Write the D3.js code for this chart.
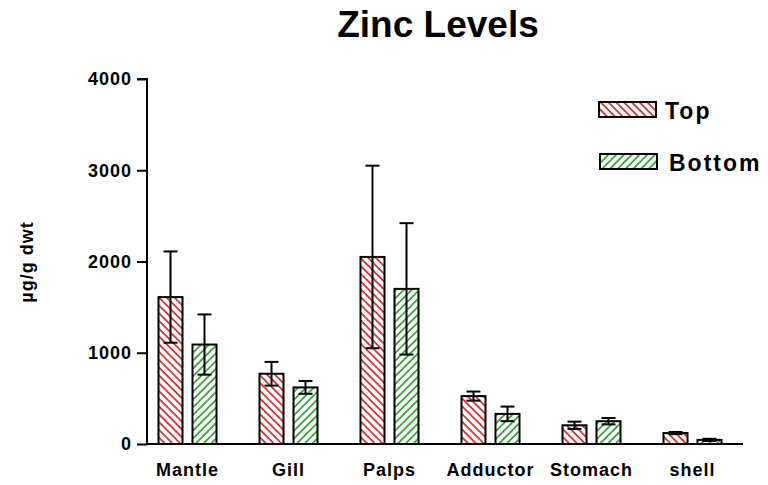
<!DOCTYPE html>
<html>
<head>
<meta charset="utf-8">
<script src="https://cdn.jsdelivr.net/npm/d3@7"></script>
<style>
  body { margin: 0; background: #fff; }
  text { font-family: "Liberation Sans", Arial, sans-serif; font-weight: bold; }
</style>
</head>
<body>
<svg></svg>
<script>
var width = 768;
var height = 485;

var tissues = ["Mantle", "Gill", "Palps", "Adductor", "Stomach", "shell"];
var seriesNames = ["Top", "Bottom"];
var topMeans = [1610, 770, 2050, 525, 205, 120];
var topErrors = [500, 130, 1000, 50, 40, 12];
var bottomMeans = [1090, 620, 1700, 330, 250, 45];
var bottomErrors = [330, 70, 720, 80, 35, 12];
var yTicks = [0, 1000, 2000, 3000, 4000];

var rows = [];
tissues.forEach((t, i) => {
  rows.push({ tissue: t, series: "Top", mean: topMeans[i], err: topErrors[i] });
  rows.push({ tissue: t, series: "Bottom", mean: bottomMeans[i], err: bottomErrors[i] });
});

var svg = d3.select("svg")
    .attr("width", width)
    .attr("height", height);

var defs = svg.append("defs");
function hatch(id, color, angle) {
  defs.append("pattern")
      .attr("id", id)
      .attr("patternUnits", "userSpaceOnUse")
      .attr("width", 5.5)
      .attr("height", 5.5)
      .attr("patternTransform", `rotate(${angle})`)
    .append("line")
      .attr("x1", 1).attr("y1", 0)
      .attr("x2", 1).attr("y2", 5.5)
      .attr("stroke", color)
      .attr("stroke-width", 1.6);
}
hatch("hatch-top", "#cc2020", -45);
hatch("hatch-bottom", "#229922", 45);

var fills = { Top: "url(#hatch-top)", Bottom: "url(#hatch-bottom)" };

var x = d3.scaleBand()
    .domain(tissues)
    .range([137, 743]);

var xInner = d3.scaleBand()
    .domain(seriesNames)
    .range([-29, 29])
    .paddingInner(0.294);

var y = d3.scaleLinear()
    .domain([0, 4000])
    .range([444, 79]);

// title
svg.append("text")
    .attr("x", 438)
    .attr("y", 37)
    .style("text-anchor", "middle")
    .style("font-size", "37px")
    .text("Zinc Levels");

// y axis label
svg.append("text")
    .attr("transform", "translate(33, 262) rotate(-90)")
    .style("text-anchor", "middle")
    .style("font-size", "18px")
    .style("letter-spacing", "1px")
    .text("µg/g dwt");

// bars
var bars = svg.append("g");
bars.selectAll("rect")
  .data(rows)
  .enter()
  .append("rect")
    .attr("x", d => x(d.tissue) + x.bandwidth() / 2 + xInner(d.series))
    .attr("y", d => y(d.mean))
    .attr("width", xInner.bandwidth())
    .attr("height", d => y(0) - y(d.mean))
    .attr("fill", d => fills[d.series])
    .attr("stroke", "black")
    .attr("stroke-width", 2);

// error bars
var errs = svg.append("g")
    .attr("stroke", "black")
    .attr("stroke-width", 2);
var cx = d => x(d.tissue) + x.bandwidth() / 2 + xInner(d.series) + xInner.bandwidth() / 2;
errs.selectAll(".stem")
  .data(rows)
  .enter()
  .append("line")
    .attr("x1", cx).attr("x2", cx)
    .attr("y1", d => y(d.mean + d.err))
    .attr("y2", d => y(d.mean - d.err));
errs.selectAll(".capHi")
  .data(rows)
  .enter()
  .append("line")
    .attr("x1", d => cx(d) - 7).attr("x2", d => cx(d) + 7)
    .attr("y1", d => y(d.mean + d.err))
    .attr("y2", d => y(d.mean + d.err));
errs.selectAll(".capLo")
  .data(rows)
  .enter()
  .append("line")
    .attr("x1", d => cx(d) - 7).attr("x2", d => cx(d) + 7)
    .attr("y1", d => y(d.mean - d.err))
    .attr("y2", d => y(d.mean - d.err));

// y axis
var yAxis = svg.append("g")
    .attr("transform", "translate(147, 0)")
    .call(d3.axisLeft(y).tickValues(yTicks).tickSize(10).tickPadding(5).tickFormat(d3.format("d")));
yAxis.selectAll("path, line").attr("stroke", "black").attr("stroke-width", 2);
yAxis.select(".domain").attr("d", `M-10,${y(4000)}H0V${y(0)}`);
yAxis.selectAll("text")
    .style("font-size", "18px")
    .style("letter-spacing", "1px")
    .style("font-family", "Liberation Sans, Arial, sans-serif")
    .style("font-weight", "bold")
    .attr("fill", "black");

// x axis
var xAxis = svg.append("g")
    .attr("transform", `translate(0, ${y(0)})`)
    .call(d3.axisBottom(x).tickSize(0).tickPadding(19));
xAxis.select(".domain").attr("d", "M147,0H743").attr("stroke", "black").attr("stroke-width", 2);
xAxis.selectAll("text")
    .style("font-size", "18px")
    .style("letter-spacing", "1px")
    .style("font-family", "Liberation Sans, Arial, sans-serif")
    .style("font-weight", "bold")
    .attr("fill", "black");

// legend
var legend = svg.append("g")
  .selectAll("g")
  .data(seriesNames)
  .enter()
  .append("g")
    .attr("transform", (d, i) => `translate(${599 + i}, ${102 + i * 52})`);
legend.append("rect")
    .attr("width", 57)
    .attr("height", 15)
    .attr("fill", d => fills[d])
    .attr("stroke", "black")
    .attr("stroke-width", 2);
legend.append("text")
    .attr("x", (d, i) => 66 + i * 3)
    .attr("y", 17)
    .style("font-size", "23px")
    .style("letter-spacing", "2px")
    .text(d => d);
</script>
</body>
</html>
